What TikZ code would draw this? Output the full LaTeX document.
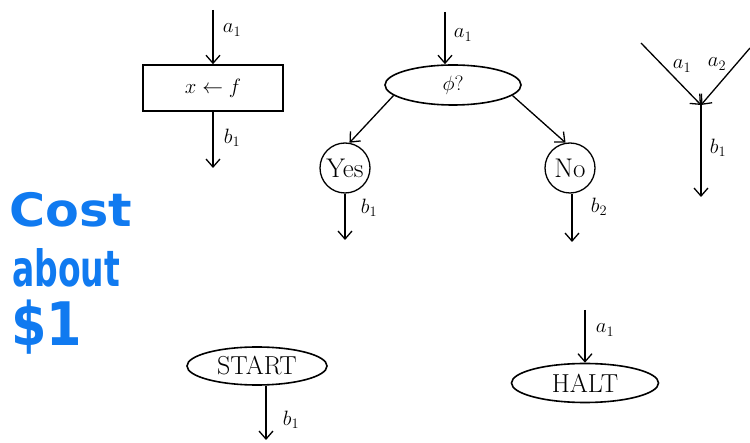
\documentclass[tikz,border=0pt]{standalone}
\usepackage{fontspec}
\newfontfamily\handfont{DejaVu Sans}
\usetikzlibrary{arrows.meta,shapes.geometric}
\definecolor{inkblue}{RGB}{16,122,240}
\tikzset{
  flow/.style={line width=1.3pt,-{Straight Barb[length=8pt,width=14pt,line width=1.3pt]}},
  shapebox/.style={draw,line width=1.6pt,font=\fontsize{22}{26}\selectfont},
  termfont/.style={font=\fontsize{26}{30}\selectfont},
  ring/.style={draw,circle,line width=1.3pt,minimum size=50pt,inner sep=0pt,font=\fontsize{27}{30}\selectfont},
  lbl/.style={font=\fontsize{22}{26}\selectfont},
  hand/.style={inkblue,anchor=base west,inner sep=0pt},
}
\begin{document}
\begin{tikzpicture}[x=1pt,y=-1pt]
\useasboundingbox (0,0) rectangle (750,443);
% assignment box
\node[shapebox,rectangle,minimum width=140pt,minimum height=46pt] (box) at (213,88) {$x\leftarrow f$};
\coordinate (boxin) at (213,10);
\coordinate (boxout) at (213,168);
\draw[flow] (boxin) -- (box.north);
\draw[flow] (box.south) -- (boxout);
\node[lbl] (la1) at (232,30) {$a_1$};
\node[lbl] (lb1) at (232,138) {$b_1$};
% decision
\node[shapebox,ellipse,minimum width=136pt,minimum height=40pt,inner sep=0pt] (dec) at (453,85) {$\phi?$};
\coordinate (decin) at (445,12);
\draw[flow] (decin) -- (dec.north -| decin);
\node[lbl] (la2) at (463,35) {$a_1$};
\node[ring] (yes) at (345,168) {Yes};
\node[ring] (no) at (570,168) {No};
\draw[flow] (dec.190) -- (yes.80);
\draw[flow] (dec.350) -- (no.100);
\coordinate (yesout) at (345,240);
\coordinate (noout) at (572,242);
\draw[flow] (yes.south) -- (yesout);
\draw[flow] (no.south -| noout) -- (noout);
\node[lbl] (lb2) at (369,208) {$b_1$};
\node[lbl] (lb3) at (599,207) {$b_2$};
% merge
\coordinate (m1) at (641,43);
\coordinate (m2) at (750,48);
\coordinate (mj) at (701,105);
\coordinate (mout) at (701,197);
\draw[flow] (m1) -- (mj);
\draw[flow] (m2) -- (mj);
\draw[flow] (mj) -- (mout);
\node[lbl] (la3) at (682,66) {$a_1$};
\node[lbl] (la4) at (717,64) {$a_2$};
\node[lbl] (lb4) at (718,148) {$b_1$};
% start
\node[shapebox,termfont,ellipse,minimum width=140pt,minimum height=38pt,inner sep=0pt] (start) at (257,366) {START};
\coordinate (startout) at (266,440);
\draw[flow] (start.south -| startout) -- (startout);
\node[lbl] (lb5) at (291,420) {$b_1$};
% halt
\node[shapebox,termfont,ellipse,minimum width=147pt,minimum height=39pt,inner sep=0pt] (halt) at (585,383) {HALT};
\coordinate (haltin) at (585,310);
\draw[flow] (haltin) -- (halt.north);
\node[lbl] (la5) at (605,330) {$a_1$};
% handwriting
\node[hand,font=\handfont\bfseries\fontsize{46}{46}\selectfont,xscale=1.07] (note1) at (9,227) {Cost};
\node[hand,font=\handfont\bfseries\fontsize{50}{50}\selectfont,xscale=0.66] (note2) at (12,287) {about};
\node[hand,font=\handfont\bfseries\fontsize{60}{60}\selectfont,xscale=0.85] (note3) at (11,346) {\$1};
\end{tikzpicture}
\end{document}
